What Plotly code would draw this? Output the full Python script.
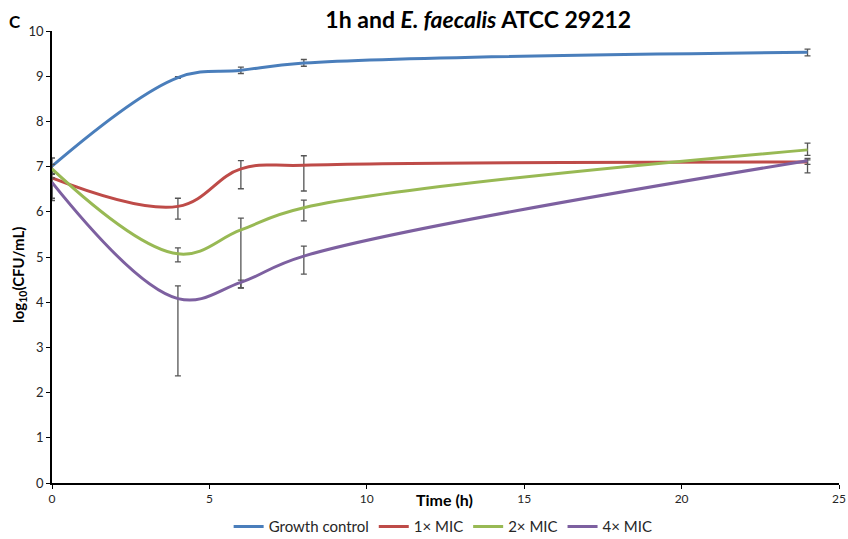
import plotly.graph_objects as go

time_h = [0, 4, 6, 8, 24]
series_names = ["Growth control", "1× MIC", "2× MIC", "4× MIC"]
growth_control = [7.01, 8.97, 9.13, 9.29, 9.53]
mic_1x = [6.75, 6.12, 6.95, 7.03, 7.10]
mic_2x = [6.95, 5.07, 5.60, 6.09, 7.37]
mic_4x = [6.65, 4.08, 4.44, 5.02, 7.13]

gc_err_plus = [0.18, 0.02, 0.07, 0.08, 0.07]
gc_err_minus = [0.18, 0.02, 0.07, 0.07, 0.08]
m1_err_plus = [0.15, 0.18, 0.18, 0.21, 0.05]
m1_err_minus = [0.45, 0.28, 0.44, 0.57, 0.05]
m2_err_plus = [0.1, 0.13, 0.26, 0.17, 0.15]
m2_err_minus = [0.1, 0.18, 1.29, 0.29, 0.12]
m4_err_plus = [0.1, 0.28, 0.05, 0.22, 0.05]
m4_err_minus = [0.4, 1.71, 0.12, 0.40, 0.27]

colors = ["#4A7EBB", "#BE4B48", "#98B954", "#7D60A0"]
values = [growth_control, mic_1x, mic_2x, mic_4x]
errs = [(gc_err_plus, gc_err_minus), (m1_err_plus, m1_err_minus),
        (m2_err_plus, m2_err_minus), (m4_err_plus, m4_err_minus)]

font_family = "Lato, 'Open Sans', sans-serif"

fig = go.Figure()
for name, vals, col, (ep, em) in zip(series_names, values, colors, errs):
    fig.add_trace(go.Scatter(
        x=time_h, y=vals, name=name, mode="lines",
        line=dict(color=col, width=3, shape="spline", smoothing=1.1),
        error_y=dict(type="data", array=ep, arrayminus=em, symmetric=False,
                     color="#555555", thickness=1.3, width=3),
    ))

fig.update_layout(
    width=848, height=539,
    paper_bgcolor="white", plot_bgcolor="white",
    margin=dict(l=52, r=9, t=31, b=56, autoexpand=False),
    font=dict(family=font_family, size=13, color="#262626"),
    title=dict(text="<b>1h and <i>E. faecalis</i> ATCC 29212</b>",
               x=0.564, xanchor="center", y=0.963, yanchor="middle",
               font=dict(size=23, color="#000000")),
    showlegend=True,
    legend=dict(orientation="h", x=0.497, xanchor="center", y=-0.097, yanchor="middle",
                font=dict(size=15, color="#262626"), itemwidth=30,
                traceorder="normal"),
    xaxis=dict(range=[0, 25], tickvals=[0, 5, 10, 15, 20, 25], showgrid=False,
               zeroline=False, showline=True, linecolor="black", linewidth=1.5,
               ticks="outside", ticklen=4, tickcolor="black", automargin=False,
               ticklabeloverflow="allow",
               tickfont=dict(size=12, color="#262626")),
    yaxis=dict(range=[0, 10], tickvals=list(range(0, 11)), showgrid=False,
               zeroline=False, showline=True, linecolor="black", linewidth=1.5,
               ticks="outside", ticklen=4, tickcolor="black", automargin=False,
               tickfont=dict(size=13, color="#262626")),
)

fig.add_annotation(text="<b>log<sub>10</sub>(CFU/mL)</b>", xref="paper", yref="paper",
                   x=-0.042, y=0.46, xanchor="center", yanchor="middle", textangle=-90,
                   showarrow=False, font=dict(size=15, color="#000000"))
fig.add_annotation(text="<b>Time (h)</b>", xref="paper", yref="paper",
                   x=0.499, y=-0.0376, xanchor="center", yanchor="middle",
                   showarrow=False, font=dict(size=16, color="#000000"))
fig.add_annotation(text="<b>C</b>", xref="paper", yref="paper",
                   x=-0.047, y=1.02, xanchor="center", yanchor="middle",
                   showarrow=False, font=dict(size=17, color="#000000"))

fig.write_html("out.html", config={"displayModeBar": False},
               post_script="document.body.style.margin='0';document.body.style.overflow='hidden';")
